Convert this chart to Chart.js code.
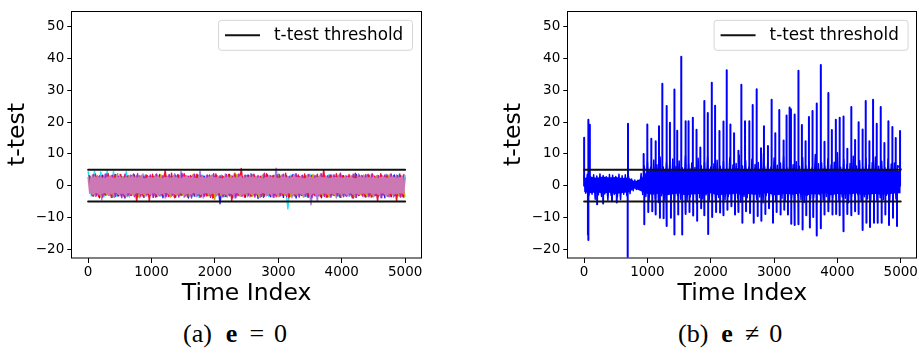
<!DOCTYPE html>
<html>
<head>
<meta charset="utf-8">
<script src="https://cdn.jsdelivr.net/npm/chart.js@4.4.1/dist/chart.umd.min.js"></script>
<style>
  body { margin: 0; background: #fff; }
  #wrap { position: relative; width: 919px; height: 353px; overflow: hidden; background: #fff; }
  canvas { position: absolute; top: 0; }
  .cap { position: absolute; top: 321px; height: 28px; line-height: 26px; display: flex; white-space: nowrap;
         font-family: "Liberation Serif", "DejaVu Serif", serif; font-size: 26px; color: #000; }
  .cap span { display: inline-block; }
</style>
</head>
<body>
<div id="wrap">
  <canvas id="chart-a" width="460" height="310" style="left:0"></canvas>
  <canvas id="chart-b" width="459" height="310" style="left:460px"></canvas>
  <div class="cap" style="left:183px"><span>(a)</span><span style="margin-left:14px;font-weight:bold">e</span><span style="margin-left:12px">=</span><span style="margin-left:10px">0</span></div>
  <div class="cap" style="left:678px"><span>(b)</span><span style="margin-left:13px;font-weight:bold">e</span><span style="margin-left:12px">&ne;</span><span style="margin-left:10px">0</span></div>
</div>
<script>
// axes
const xTicks = [0, 1000, 2000, 3000, 4000, 5000];
const yTicks = [-20, -10, 0, 10, 20, 30, 40, 50];
const thresholds = [5, -5];
const timeSpan = [0, 5000];

// (a) e = 0 : upper / lower excursions of each trace (hi every step, lo half a step later)
const pinkHi = [2.6, 2.3, 2.9, 2.5, 2.8, 2.2, 2.7, 3.0, 2.4, 2.6, 2.9, 2.3, 2.7, 2.5, 3.1, 2.4, 2.8, 2.6, 2.2, 2.9,
  2.5, 2.7, 3.0, 2.3, 2.6, 2.8, 2.4, 2.9, 2.6, 2.2, 2.7, 3.0, 2.5, 2.8, 2.3, 2.6, 2.9, 2.4, 2.7, 3.1,
  2.5, 2.8, 2.2, 2.6, 2.9, 2.4, 2.7, 2.5, 3.0, 2.3, 2.8, 2.6, 2.9, 2.4, 2.7, 2.2, 2.6, 3.0, 2.5, 2.8,
  2.3, 2.7, 2.9, 2.4, 2.6, 3.1, 2.5, 2.8, 2.2, 2.7, 2.9, 2.4, 2.6, 3.0, 2.5, 2.8, 2.3, 2.7, 2.6, 2.9,
  2.4, 2.8, 2.5, 3.0, 2.2, 2.6, 2.9, 2.4, 2.7, 2.5, 2.8, 2.3, 2.6, 3.0, 2.4, 2.7, 2.9, 2.5, 2.6, 2.8, 2.4];
const pinkLo = [-2.4, -2.7, -2.2, -2.8, -2.5, -2.3, -2.9, -2.6, -2.1, -2.7, -2.4, -2.8, -2.3, -2.6, -2.9, -2.2, -2.5, -2.7, -2.4, -2.8,
  -2.3, -2.6, -2.9, -2.5, -2.2, -2.7, -2.4, -2.8, -2.6, -2.3, -2.9, -2.5, -2.7, -2.2, -2.6, -2.8, -2.4, -2.3, -2.7, -2.5,
  -2.9, -2.2, -2.6, -2.8, -2.4, -2.7, -2.3, -2.5, -2.9, -2.6, -2.2, -2.8, -2.4, -2.7, -2.5, -2.3, -2.9, -2.6, -2.4, -2.8,
  -2.2, -2.5, -2.7, -2.3, -2.9, -2.6, -2.4, -2.8, -2.5, -2.2, -2.7, -2.4, -2.9, -2.6, -2.3, -2.8, -2.5, -2.7, -2.2, -2.6,
  -2.4, -2.9, -2.3, -2.7, -2.5, -2.8, -2.4, -2.6, -2.2, -2.7, -2.5, -2.8, -2.3, -2.6, -2.9, -2.4, -2.7, -2.5, -2.3, -2.6];
const cyanHi = [4.4, 4.6, 4.3, 4.7, 4.5, 3.6, 4.4, 3.3, 3.0, 3.4, 2.9, 3.2, 3.6, 2.8, 3.1, 3.5, 3.0, 2.7, 3.3, 3.1,
  2.9, 3.4, 3.0, 3.6, 2.8, 3.2, 3.5, 2.9, 3.3, 3.0, 3.7, 2.8, 3.4, 3.1, 2.9, 3.6, 3.2, 3.0, 3.5, 2.8,
  3.3, 3.1, 3.7, 2.9, 3.2, 3.4, 3.0, 3.6, 2.8, 3.3, 3.1];
const cyanLo = [-3.2, -2.9, -3.5, -3.0, -3.3, -2.8, -3.6, -3.1, -2.9, -3.4, -3.0, -3.3, -2.8, -3.5, -3.1, -2.9, -3.4, -3.7, -3.0, -3.2,
  -2.8, -3.5, -3.1, -3.3, -2.9, -3.6, -3.0, -3.2, -3.4, -2.8, -3.1, -7.3, -3.3, -2.9, -3.5, -3.0, -3.2, -3.6, -2.9, -3.3,
  -3.1, -3.4, -2.8, -3.5, -3.0, -3.2, -2.9, -3.6, -3.1, -3.3];
const redHi = [3.2, 3.6, 3.0, 3.8, 3.3, 3.5, 2.9, 3.7, 3.1, 3.4, 3.6, 3.0, 4.9, 3.9, 3.5, 3.8, 3.2, 3.6, 3.0, 3.4,
  3.7, 3.1, 3.5, 3.9, 5.4, 3.3, 3.6, 3.0, 3.8, 3.2, 3.5, 3.9, 3.1, 3.4, 3.7, 3.0, 3.6, 5.0, 3.3, 3.8,
  3.1, 3.5, 3.9, 3.2, 3.6, 3.0, 3.8, 3.4, 3.1, 3.7, 3.5];
const redLo = [-3.1, -3.5, -2.9, -3.7, -3.2, -3.4, -3.0, -5.0, -3.3, -4.7, -3.6, -3.0, -3.4, -3.8, -3.1, -3.5, -2.9, -3.6, -3.2, -3.9,
  -3.0, -3.4, -4.7, -3.1, -3.6, -3.3, -2.9, -3.7, -3.2, -3.5, -3.0, -3.8, -3.3, -3.1, -3.6, -2.9, -3.4, -3.7, -3.0, -3.5,
  -3.2, -3.8, -3.1, -3.4, -3.6, -4.8, -3.0, -3.3, -4.8, -3.5];
const blueHi = [3.0, 2.7, 3.3, 2.9, 3.5, 2.8, 3.1, 3.4, 2.6, 3.2, 2.9, 3.5, 3.0, 2.7, 3.3, 3.1, 2.8, 3.4, 3.0, 2.6,
  3.2, 2.9, 3.5, 3.1, 2.8, 3.3, 3.0, 2.7, 3.4, 3.2, 2.9, 3.1, 3.5, 2.8, 3.0, 3.3, 2.7, 3.2, 3.4, 2.9,
  3.1, 2.8, 3.5, 3.0, 3.3, 2.7, 3.2, 2.9, 3.4, 3.1, 3.0];
const blueLo = [-3.3, -3.8, -3.0, -3.6, -3.2, -3.9, -3.1, -3.5, -3.7, -3.0, -3.4, -3.8, -3.2, -3.6, -3.0, -3.9, -3.3, -3.5, -3.1, -3.7,
  -5.7, -3.4, -3.8, -3.0, -3.6, -3.2, -4.0, -3.3, -3.5, -3.1, -3.7, -3.4, -3.9, -3.0, -3.6, -3.2, -3.8, -3.5, -3.1, -3.7,
  -3.3, -3.9, -3.0, -3.6, -3.4, -3.2, -3.8, -3.5, -3.1, -3.6];
const goldHi = [2.8, 3.2, 2.6, 3.0, 3.4, 2.7, 3.1, 2.9, 3.3, 2.6, 3.0, 3.5, 2.8, 3.2, 2.7, 3.1, 3.4, 2.9, 2.6, 3.3,
  3.0, 2.8, 3.2, 3.5, 2.7, 3.1, 2.9, 3.3, 2.6, 3.0, 3.4, 2.8, 3.2, 2.7, 3.1, 3.5, 2.9, 3.0, 2.6, 3.3,
  2.8, 3.2, 3.0, 3.4, 2.7, 3.1, 2.9, 3.3, 2.8, 3.0, 3.2];
const goldLo = [-3.0, -3.4, -2.8, -3.6, -3.1, -3.3, -2.9, -3.5, -3.2, -2.7, -3.4, -3.0, -3.6, -3.1, -2.9, -3.5, -3.3, -2.8, -3.2, -4.4,
  -3.0, -3.6, -3.1, -3.4, -2.9, -3.3, -3.7, -3.0, -3.2, -3.5, -2.8, -3.4, -3.1, -3.6, -3.0, -3.3, -2.9, -3.5, -3.2, -3.7,
  -3.0, -3.4, -2.8, -3.3, -3.6, -3.1, -3.5, -2.9, -3.2, -3.4];
const purpleHi = [3.3, 2.9, 3.6, 3.1, 3.8, 3.0, 3.4, 3.2, 3.7, 2.9, 3.5, 3.1, 3.3, 3.8, 4.5, 3.0, 3.6, 4.7, 3.2, 3.4,
  2.9, 3.7, 3.1, 3.5, 3.3, 3.8, 3.0, 3.6, 3.2, 5.5, 3.4, 2.9, 3.7, 3.1, 3.5, 3.3, 3.8, 3.0, 3.4, 3.6,
  3.2, 2.9, 3.7, 3.1, 3.5, 3.3, 3.0, 3.6, 3.4, 3.2, 3.0];
const purpleLo = [-3.4, -4.5, -3.0, -3.7, -3.2, -3.5, -2.9, -3.8, -3.3, -3.6, -3.1, -3.9, -3.4, -3.0, -3.7, -3.2, -3.5, -3.8, -3.1, -3.4,
  -3.6, -3.0, -3.9, -3.3, -3.5, -3.1, -3.7, -3.2, -3.6, -3.4, -3.0, -3.8, -3.3, -3.5, -6.0, -5.0, -3.2, -3.6, -3.9, -3.1,
  -3.4, -3.7, -3.0, -3.5, -3.3, -3.8, -3.2, -3.6, -3.4, -3.1];
const magentaHi = [3.5, 3.1, 3.7, 3.3, 2.9, 3.6, 3.2, 3.8, 3.0, 3.4, 3.7, 3.1, 3.5, 3.3, 3.9, 3.0, 3.6, 3.2, 3.4, 3.8,
  3.1, 3.5, 3.0, 3.7, 3.3, 3.6, 3.2, 3.9, 3.1, 3.4, 3.6, 3.0, 3.8, 3.3, 3.5, 3.1, 3.7, 3.2, 3.4, 3.9,
  3.0, 3.6, 3.3, 3.5, 3.8, 3.1, 3.4, 3.7, 3.2, 3.5];
const magentaLo = [-3.2, -3.6, -3.0, -3.4, -3.8, -3.1, -3.5, -3.3, -2.9, -3.7, -3.2, -3.5, -3.0, -3.6, -3.3, -3.9, -3.1, -3.4, -3.7, -3.0,
  -3.5, -3.2, -3.8, -3.3, -3.1, -3.6, -3.4, -2.9, -3.7, -3.2, -3.5, -3.0, -3.6, -3.3, -3.8, -3.1, -3.4, -3.6, -3.2, -3.5,
  -3.0, -3.7, -3.3, -3.5, -3.1, -3.8, -3.4, -3.2, -3.6, -3.3];

// (b) e != 0 : ragged noise band (every 50 samples), its solid core (every 100 samples) and the spikes [time, t]
const bandHi = [3.1, 3.6, 2.9, 3.4, 3.0, 3.7, 3.2, 2.8, 3.5, 3.3, 2.9, 3.6, 3.1, 3.4, 3.0, 2.1, 1.8, 1.7, 3.8,
  6.2, 7.5, 5.8, 8.1, 6.6, 9.0, 5.9, 7.2, 6.4, 8.4, 6.0, 7.8, 5.6, 9.4, 6.8, 7.1, 5.7, 8.6, 6.3, 7.4,
  9.1, 5.9, 6.9, 8.0, 6.1, 7.7, 5.5, 8.8, 6.5, 7.0, 9.6, 6.2, 7.9, 5.8, 8.3, 6.7, 7.3, 10.2, 6.0, 7.6,
  5.9, 8.7, 6.4, 7.1, 9.2, 5.7, 8.1, 6.6, 7.5, 6.1, 8.9, 6.3, 7.8, 5.6, 9.8, 6.9, 7.2, 6.0, 8.5, 6.5,
  7.4, 10.4, 5.8, 8.2, 6.7, 7.0, 9.3, 6.2, 7.9, 5.9, 8.6, 6.4, 7.3, 9.0, 6.1, 7.7, 5.7, 8.4, 6.8, 7.1, 6.3, 5.4];
const bandLo = [-2.4, -3.1, -2.7, -4.3, -2.9, -3.4, -2.6, -4.6, -3.0, -2.8, -3.6, -4.4, -2.7, -3.2, -2.5, -1.6, -1.2, -1.1, -2.8,
  -3.4, -4.8, -2.9, -4.1, -5.3, -3.2, -4.5, -2.8, -3.9, -5.0, -3.1, -4.3, -2.7, -4.9, -3.6, -3.0, -5.5, -3.8, -4.2, -2.9,
  -4.6, -3.3, -5.1, -3.7, -2.8, -4.4, -3.5, -4.9, -3.0, -4.0, -5.2, -3.4, -3.8, -4.7, -2.9, -4.3, -3.6, -5.4, -3.1, -4.1,
  -3.3, -4.8, -2.8, -4.0, -5.0, -3.5, -3.9, -4.6, -3.2, -4.4, -5.3, -3.0, -4.2, -3.7, -4.9, -2.9, -4.5, -3.4, -5.1, -3.8,
  -3.1, -4.7, -3.6, -4.0, -5.4, -3.3, -4.3, -2.9, -4.8, -3.5, -4.1, -5.0, -3.2, -4.6, -3.8, -4.4, -3.0, -5.2, -3.7, -4.2];
const coreHi = [2.4, 2.8, 2.5, 2.9, 2.6, 2.7, 2.4, 2.6, 1.3, 2.2,
  4.6, 5.1, 4.8, 5.4, 4.5, 5.2, 4.9, 5.5, 4.7, 5.0, 5.3, 4.6, 5.1, 4.8, 5.6, 4.9, 5.2, 4.5, 5.4, 5.0,
  4.7, 5.3, 4.9, 5.5, 4.6, 5.1, 4.8, 5.2, 5.4, 4.7, 5.0, 5.3, 4.8, 5.5, 4.9, 5.1, 4.6, 5.2, 5.0, 4.8, 4.5];
const coreLo = [-2.0, -2.4, -2.1, -2.5, -2.2, -2.6, -2.3, -2.1, -0.9, -1.8,
  -2.6, -2.9, -2.4, -3.0, -2.7, -2.5, -3.1, -2.8, -2.6, -2.9, -2.4, -3.0, -2.7, -2.8, -2.5, -3.1, -2.6, -2.9, -2.7, -2.4,
  -3.0, -2.8, -2.6, -2.9, -2.5, -3.1, -2.7, -2.8, -2.4, -3.0, -2.6, -2.9, -2.7, -2.5, -3.0, -2.8, -2.6, -2.9, -2.7, -2.5, -2.4];
const upSpikes = [[0, 15.1], [69, 20.8], [90, 19.2], [693, 19.5], [940, 10.0], [998, 19.3], [1061, 14.8], [1124, 14.0],
  [1182, 18.7], [1235, 32.1], [1297, 25.1], [1355, 19.8], [1423, 30.3], [1470, 17.3], [1534, 40.6], [1597, 20.3],
  [1649, 20.3], [1717, 21.4], [1775, 17.6], [1835, 12.0], [1895, 26.7], [1953, 22.9], [2016, 32.4], [2068, 25.2],
  [2137, 17.2], [2194, 20.2], [2252, 36.4], [2310, 19.3], [2368, 16.5], [2431, 11.0], [2483, 31.8], [2541, 20.3],
  [2609, 20.3], [2662, 25.4], [2725, 30.4], [2793, 11.8], [2840, 18.7], [2903, 12.5], [2961, 27.1], [3019, 16.5],
  [3082, 23.8], [3150, 14.2], [3197, 22.1], [3245, 24.6], [3266, 24.1], [3318, 22.4], [3381, 36.2], [3439, 19.1],
  [3497, 14.0], [3550, 21.6], [3607, 23.5], [3670, 25.9], [3738, 38.0], [3796, 13.8], [3854, 29.2], [3912, 17.5],
  [3975, 20.8], [4033, 21.4], [4090, 21.8], [4153, 11.6], [4216, 24.8], [4279, 14.4], [4332, 20.0], [4395, 17.7],
  [4447, 26.7], [4505, 14.0], [4563, 27.1], [4621, 19.5], [4684, 24.8], [4742, 13.4], [4805, 20.3], [4868, 18.5],
  [4921, 15.0], [4989, 17.2]];
const downSpikes = [[60, -15.5], [64, -17.1], [205, -5.9], [300, -5.6], [440, -4.9], [515, -5.3], [688, -22.4],
  [950, -12.2], [1013, -8.3], [1076, -8.1], [1134, -9.1], [1197, -10.1], [1255, -10.3], [1308, -12.7], [1371, -10.1],
  [1428, -15.4], [1486, -9.1], [1549, -15.4], [1607, -8.9], [1664, -8.3], [1722, -9.4], [1785, -11.1], [1848, -7.1],
  [1901, -9.3], [1959, -15.2], [2022, -9.9], [2084, -8.3], [2147, -8.5], [2205, -9.3], [2263, -7.6], [2326, -6.5],
  [2383, -9.1], [2441, -8.3], [2499, -11.7], [2557, -8.1], [2620, -8.6], [2678, -11.7], [2741, -9.6], [2799, -11.1],
  [2862, -8.9], [2920, -7.1], [2983, -11.7], [3040, -8.3], [3103, -9.1], [3161, -7.6], [3219, -9.1], [3271, -12.0],
  [3329, -12.4], [3387, -12.2], [3450, -13.8], [3508, -9.3], [3565, -13.2], [3618, -9.9], [3676, -15.7], [3738, -13.4],
  [3796, -9.1], [3859, -8.1], [3922, -9.1], [3980, -8.9], [4038, -9.3], [4101, -14.4], [4159, -8.9], [4222, -9.3],
  [4279, -8.1], [4337, -8.9], [4400, -14.0], [4458, -11.7], [4515, -13.0], [4578, -11.7], [4636, -11.7], [4699, -11.7],
  [4757, -9.1], [4815, -12.4], [4878, -10.1], [4941, -12.7]];

const FONT = "DejaVu Sans";

function series(values, step, phase) {
  return values.map((v, i) => ({ x: phase + i * step, y: v })).filter((p) => p.x <= timeSpan[1]);
}
// hi at phase + i*step, lo half a step later -> dense up/down strokes
function zigzag(hi, lo, step, phase) {
  const pts = [];
  hi.forEach((v, i) => {
    pts.push({ x: phase + i * step, y: v });
    if (i < lo.length) pts.push({ x: phase + i * step + step / 2, y: lo[i] });
  });
  return pts.filter((p) => p.x <= timeSpan[1]);
}
function spikeLine(list) {
  const pts = [];
  list.slice().sort((a, b) => a[0] - b[0]).forEach(([t, v]) => {
    pts.push({ x: t, y: 0 }, { x: t, y: v }, { x: t, y: 0 });
  });
  return pts;
}
function thresholdSets() {
  return thresholds.map((v) => ({
    label: "t-test threshold",
    data: [{ x: timeSpan[0], y: v }, { x: timeSpan[1], y: v }],
    borderColor: "#111",
    borderWidth: 2,
  }));
}
// filled area between two envelopes (upper fills down to the next dataset)
function areaSets(hiPts, loPts, color) {
  return [
    { data: hiPts, borderWidth: 0, borderColor: color, backgroundColor: color, fill: "+1" },
    { data: loPts, borderWidth: 0, borderColor: color },
  ];
}

const frame = {
  id: "frame",
  afterDraw(c) {
    const a = c.chartArea, g = c.ctx;
    g.save();
    g.strokeStyle = "#000";
    g.lineWidth = 1;
    g.strokeRect(Math.round(a.left) - 0.5, Math.round(a.top) + 0.5, Math.round(a.right - a.left) + 1, Math.round(a.bottom - a.top) - 0.5);
    g.restore();
  },
};
const legendBox = {
  id: "legendBox",
  afterDraw(c) {
    const a = c.chartArea, g = c.ctx;
    const w = 194, h = 30, x = a.right - 9 - w, y = a.top + 8.7;
    g.save();
    g.beginPath();
    g.roundRect(x + 0.5, y + 0.5, w, h, 3);
    g.fillStyle = "rgba(255,255,255,0.8)";
    g.fill();
    g.strokeStyle = "#d5d5d5";
    g.lineWidth = 1;
    g.stroke();
    g.beginPath();
    g.moveTo(x + 7, y + h / 2 + 0.5);
    g.lineTo(x + 42, y + h / 2 + 0.5);
    g.strokeStyle = "#111";
    g.lineWidth = 2;
    g.stroke();
    g.fillStyle = "#000";
    g.font = "16.8px " + FONT;
    g.textBaseline = "middle";
    g.fillText("t-test threshold", x + 56, y + h / 2 + 1);
    g.restore();
  },
};

function options(padLeft, padRight) {
  return {
    responsive: false,
    animation: false,
    events: [],
    layout: { padding: { left: padLeft, right: padRight, top: 4.3, bottom: 0 } },
    plugins: { legend: { display: false }, tooltip: { enabled: false } },
    elements: {
      point: { radius: 0 },
      line: { tension: 0, borderJoinStyle: "round", borderCapStyle: "round", fill: false },
    },
    scales: {
      x: {
        type: "linear",
        min: -250,
        max: 5250,
        afterBuildTicks(s) { s.ticks = xTicks.map((v) => ({ value: v })); },
        afterFit(s) { s.height = 52; },
        ticks: { color: "#000", font: { family: FONT, size: 13.5 }, padding: 1, maxRotation: 0, autoSkip: false, callback: (v) => String(v) },
        grid: { drawOnChartArea: false, drawTicks: true, tickLength: 5, color: "#000", lineWidth: 1 },
        border: { display: false },
        title: { display: true, text: "Time Index", color: "#000", font: { family: FONT, size: 23.5 }, padding: { top: 0, bottom: 2 } },
      },
      y: {
        type: "linear",
        min: -22.8,
        max: 55,
        afterBuildTicks(s) { s.ticks = yTicks.map((v) => ({ value: v })); },
        afterFit(s) { s.width = 72.3; },
        ticks: { color: "#000", font: { family: FONT, size: 13.5 }, padding: 3, autoSkip: false, callback: (v) => String(v).replace("-", "\u2212") },
        grid: { drawOnChartArea: false, drawTicks: true, tickLength: 5, color: "#000", lineWidth: 1 },
        border: { display: false },
        title: { display: true, text: "t-test", color: "#000", font: { family: FONT, size: 23.5 }, padding: { top: 3.7, bottom: 0 } },
      },
    },
  };
}

// first listed is drawn on top
const PINK = "#cc78b4";
const tracesA = [
  { hi: magentaHi, lo: magentaLo, step: 100, phase: 80, color: "#c01cb4" },
  { hi: redHi, lo: redLo, step: 100, phase: 15, color: "#f0102c" },
  { hi: purpleHi, lo: purpleLo, step: 100, phase: 65, color: "#a57ce0" },
  { hi: goldHi, lo: goldLo, step: 100, phase: 45, color: "#c8a400" },
  { hi: blueHi, lo: blueLo, step: 100, phase: 30, color: "#1818ff" },
  { hi: cyanHi, lo: cyanLo, step: 100, phase: 0, color: "#20e4f4" },
];

new Chart(document.getElementById("chart-a"), {
  type: "line",
  data: {
    datasets: thresholdSets()
      .concat([{ data: zigzag(pinkHi, pinkLo, 50, 0), borderColor: PINK, borderWidth: 1.5 }])
      .concat(areaSets(series(pinkHi, 50, 0), series(pinkLo, 50, 25), PINK))
      .concat(tracesA.map((t) => ({ data: zigzag(t.hi, t.lo, t.step, t.phase), borderColor: t.color, borderWidth: 1.4 }))),
  },
  options: options(0, 39),
  plugins: [frame, legendBox],
});

new Chart(document.getElementById("chart-b"), {
  type: "line",
  data: {
    datasets: thresholdSets()
      .concat([
        { data: spikeLine(upSpikes.concat(downSpikes)), borderColor: "#0000ff", borderWidth: 2 },
        { data: zigzag(bandHi, bandLo, 50, 0), borderColor: "#0000ff", borderWidth: 1.5 },
      ])
      .concat(areaSets(series(coreHi, 100, 0), series(coreLo, 100, 0), "#0000ff")),
  },
  options: options(36, 1.7),
  plugins: [frame, legendBox],
});
</script>
</body>
</html>
